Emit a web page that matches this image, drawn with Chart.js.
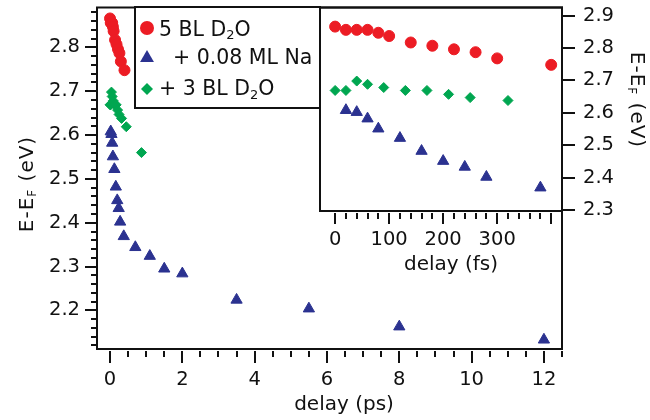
<!DOCTYPE html>
<html>
<head>
<meta charset="utf-8">
<title>E-EF vs delay</title>
<script src="https://cdn.jsdelivr.net/npm/chart.js@4.4.1/dist/chart.umd.min.js"></script>
<style>
  body { margin: 0; background: #fff; }
  #wrap { position: relative; width: 650px; height: 420px; }
  #mainChart { position: absolute; left: 0; top: 0; }
  #insetChart { position: absolute; left: 300px; top: 0; }
</style>
</head>
<body>
<div id="wrap">
  <canvas id="mainChart" width="650" height="420"></canvas>
  <canvas id="insetChart" width="350" height="290"></canvas>
</div>
<script>
// short delays in fs (these are the inset points, also plotted in ps on the main plot)
const redFs = [0, 20, 40, 60, 80, 100, 140, 180, 220, 260, 300, 400];
const redE = [2.866, 2.856, 2.856, 2.856, 2.847, 2.837, 2.817, 2.807, 2.796, 2.787, 2.768, 2.748];
const blueFs = [20, 40, 60, 80, 120, 160, 200, 240, 280, 380];
const blueE = [2.608, 2.602, 2.582, 2.551, 2.522, 2.482, 2.451, 2.433, 2.402, 2.369];
const greenFs = [0, 20, 40, 60, 90, 130, 170, 210, 250, 320];
const greenE = [2.669, 2.669, 2.698, 2.688, 2.678, 2.669, 2.669, 2.657, 2.647, 2.638];
// longer delays in ps, main plot only
const blueLongPs = [0.7, 1.1, 1.5, 2.0, 3.5, 5.5, 8.0, 12.0];
const blueLongE = [2.344, 2.324, 2.295, 2.284, 2.224, 2.204, 2.163, 2.133];
const greenLongPs = [0.45, 0.87];
const greenLongE = [2.619, 2.56];
// tick labels
const mainXLabels = [0, 2, 4, 6, 8, 10, 12];
const mainYLabels = [2.2, 2.3, 2.4, 2.5, 2.6, 2.7, 2.8];
const insetXLabels = [0, 100, 200, 300];
const insetYLabels = [2.3, 2.4, 2.5, 2.6, 2.7, 2.8, 2.9];

const FONT = 'DejaVu Sans';
Chart.defaults.font.family = FONT;
Chart.defaults.font.size = 19.5;
Chart.defaults.color = '#111';

const red = '#ec1c24', blue = '#2b3290', green = '#00a650';

function pts(xs, ys, k) { return xs.map((x, i) => ({ x: x * k, y: ys[i] })); }
function near(v, arr) { return arr.some(a => Math.abs(a - v) < 1e-6); }
function isMult(v, m) { const q = v / m; return Math.abs(q - Math.round(q)) < 1e-6; }

// fixed axis size, no extra label padding so the plot box lands where I want it
function fixSize(w, h) {
  return s => {
    if (w) s.width = w;
    if (h) s.height = h;
    s.paddingTop = 0; s.paddingBottom = 0; s.paddingLeft = 0; s.paddingRight = 0;
  };
}

// text with a lowered small part, parts = [[text, size, dy], ...]
function partsWidth(ctx, parts) {
  let w = 0;
  parts.forEach(([t, s]) => { ctx.font = s + 'px "' + FONT + '"'; w += ctx.measureText(t).width; });
  return w;
}
function drawParts(ctx, parts, x, y) {
  parts.forEach(([t, s, dy]) => {
    ctx.font = s + 'px "' + FONT + '"';
    ctx.fillText(t, x, y + dy);
    x += ctx.measureText(t).width;
  });
}
const eTitle = [['E-E', 20, 0], ['F', 12, 3], [' (eV)', 20, 0]];

// frame box + outward ticks (major / minor)
function frameTicks(list) {
  return {
    id: 'frameTicks',
    afterDraw(chart) {
      const ctx = chart.ctx, a = chart.chartArea;
      ctx.save();
      ctx.strokeStyle = '#111';
      ctx.lineWidth = 2;
      ctx.strokeRect(a.left, a.top, a.right - a.left, a.bottom - a.top);
      list.forEach(c => {
        const s = chart.scales[c.id];
        s.ticks.forEach(t => {
          if (t.value < c.from - 1e-9 || t.value > c.to + 1e-9) return;
          const len = isMult(t.value, c.major) ? c.long : c.short;
          const p = Math.round(s.getPixelForValue(t.value));
          ctx.beginPath();
          if (c.side === 'bottom') { ctx.moveTo(p, a.bottom + c.gap); ctx.lineTo(p, a.bottom + c.gap + len); }
          else if (c.side === 'left') { ctx.moveTo(a.left, p); ctx.lineTo(a.left - len, p); }
          else { ctx.moveTo(a.right, p); ctx.lineTo(a.right + len, p); }
          ctx.stroke();
        });
      });
      ctx.restore();
    }
  };
}

function marker(ctx, style, x, y, r) {
  ctx.beginPath();
  if (style === 'circle') ctx.arc(x, y, r, 0, Math.PI * 2);
  else if (style === 'triangle') {
    ctx.moveTo(x, y - r);
    ctx.lineTo(x + r * 0.866, y + r * 0.5);
    ctx.lineTo(x - r * 0.866, y + r * 0.5);
    ctx.closePath();
  } else {
    ctx.moveTo(x, y - r); ctx.lineTo(x + r, y); ctx.lineTo(x, y + r); ctx.lineTo(x - r, y);
    ctx.closePath();
  }
  ctx.fill();
}

const legendRows = [
  { parts: [['5 BL D', 20.5, 0], ['2', 13, 3.5], ['O', 20.5, 0]], tx: 159, ty: 35.5, my: 28, r: 7 },
  { parts: [['+ 0.08 ML Na', 20.5, 0]], tx: 173, ty: 64, my: 58, r: 8 },
  { parts: [['+ 3 BL D', 20.5, 0], ['2', 13, 3.5], ['O', 20.5, 0]], tx: 159, ty: 95, my: 89, r: 6 }
];

const mainDecor = {
  id: 'mainDecor',
  afterDraw(chart) {
    const ctx = chart.ctx;
    ctx.save();
    // legend box
    ctx.fillStyle = '#fff';
    ctx.fillRect(135, 7, 185, 101);
    ctx.strokeStyle = '#111';
    ctx.lineWidth = 2;
    ctx.strokeRect(135, 7, 185, 101);
    chart.data.datasets.forEach((ds, i) => {
      const row = legendRows[i];
      ctx.fillStyle = ds.backgroundColor;
      marker(ctx, ds.pointStyle, 147, row.my, row.r);
      ctx.fillStyle = '#111';
      ctx.textBaseline = 'alphabetic';
      ctx.textAlign = 'left';
      drawParts(ctx, row.parts, row.tx, row.ty);
    });
    // axis titles
    ctx.fillStyle = '#111';
    const t = [['delay (ps)', 20, 0]];
    drawParts(ctx, t, 344 - partsWidth(ctx, t) / 2, 410);
    ctx.letterSpacing = '1px';
    ctx.translate(33, 184);
    ctx.rotate(-Math.PI / 2);
    drawParts(ctx, eTitle, -partsWidth(ctx, eTitle) / 2, 0);
    ctx.restore();
  }
};

const insetDecor = {
  id: 'insetDecor',
  afterDraw(chart) {
    const ctx = chart.ctx;
    ctx.save();
    ctx.fillStyle = '#111';
    ctx.textBaseline = 'alphabetic';
    ctx.textAlign = 'left';
    const t = [['delay (fs)', 20, 0]];
    drawParts(ctx, t, 151 - partsWidth(ctx, t) / 2, 270);
    ctx.letterSpacing = '1px';
    ctx.translate(331, 100);
    ctx.rotate(Math.PI / 2);
    drawParts(ctx, eTitle, -partsWidth(ctx, eTitle) / 2, 0);
    ctx.restore();
  }
};

const noGrid = { display: false, drawTicks: false };

new Chart(document.getElementById('mainChart'), {
  type: 'scatter',
  data: {
    datasets: [
      { label: '5 BL D₂O', data: pts(redFs, redE, 0.001), pointStyle: 'circle', pointRadius: 5.5,
        backgroundColor: red, borderColor: red, borderWidth: 1 },
      { label: '+ 0.08 ML Na', data: pts(blueFs, blueE, 0.001).concat(pts(blueLongPs, blueLongE, 1)),
        pointStyle: 'triangle', pointRadius: 6.5, backgroundColor: blue, borderColor: blue, borderWidth: 1 },
      { label: '+ 3 BL D₂O', data: pts(greenFs, greenE, 0.001).concat(pts(greenLongPs, greenLongE, 1)),
        pointStyle: 'rectRot', pointRadius: 5, backgroundColor: green, borderColor: green, borderWidth: 1 }
    ]
  },
  options: {
    responsive: false,
    animation: false,
    events: [],
    layout: { padding: { left: 0, top: 7, right: 88, bottom: 0 } },
    plugins: { legend: { display: false }, tooltip: { enabled: false } },
    scales: {
      x: {
        type: 'linear', position: 'bottom', min: -0.36, max: 12.5,
        afterFit: fixSize(0, 71),
        grid: noGrid, border: { display: false },
        ticks: { stepSize: 0.5, autoSkip: false, includeBounds: false, padding: 19, maxRotation: 0,
                 callback: v => near(v, mainXLabels) ? String(v) : '' }
      },
      y: {
        type: 'linear', position: 'left', min: 2.112, max: 2.891,
        afterFit: fixSize(97, 0),
        grid: noGrid, border: { display: false },
        ticks: { stepSize: 0.02, autoSkip: false, includeBounds: false, padding: 17,
                 callback: v => near(v, mainYLabels) ? v.toFixed(1) : '' }
      }
    }
  },
  plugins: [
    frameTicks([
      { id: 'x', side: 'bottom', major: 2, long: 12, short: 6, gap: 2, from: 0, to: 12.5 },
      { id: 'y', side: 'left', major: 0.1, long: 12, short: 6, gap: 0, from: 2.112, to: 2.891 }
    ]),
    mainDecor
  ]
});

new Chart(document.getElementById('insetChart'), {
  type: 'scatter',
  data: {
    datasets: [
      { label: '5 BL D₂O', data: pts(redFs, redE, 1), pointStyle: 'circle', pointRadius: 5.5,
        backgroundColor: red, borderColor: red, borderWidth: 1 },
      { label: '+ 0.08 ML Na', data: pts(blueFs, blueE, 1), pointStyle: 'triangle', pointRadius: 6.5,
        backgroundColor: blue, borderColor: blue, borderWidth: 1 },
      { label: '+ 3 BL D₂O', data: pts(greenFs, greenE, 1), pointStyle: 'rectRot', pointRadius: 5,
        backgroundColor: green, borderColor: green, borderWidth: 1 }
    ]
  },
  options: {
    responsive: false,
    animation: false,
    events: [],
    layout: { padding: { left: 20, top: 7, right: 0, bottom: 0 } },
    plugins: { legend: { display: false }, tooltip: { enabled: false } },
    scales: {
      x: {
        type: 'linear', position: 'bottom', min: -28, max: 420,
        afterFit: fixSize(0, 79),
        grid: noGrid, border: { display: false },
        ticks: { stepSize: 20, autoSkip: false, includeBounds: false, padding: 17, maxRotation: 0,
                 callback: v => near(v, insetXLabels) ? String(v) : '' }
      },
      y: {
        type: 'linear', position: 'right', min: 2.297, max: 2.925,
        afterFit: fixSize(88, 0),
        grid: noGrid, border: { display: false },
        ticks: { stepSize: 0.1, autoSkip: false, includeBounds: false, padding: 21,
                 callback: v => near(v, insetYLabels) ? v.toFixed(1) : '' }
      }
    }
  },
  plugins: [
    frameTicks([
      { id: 'x', side: 'bottom', major: 100, long: 11, short: 6, gap: 2, from: 0, to: 400 },
      { id: 'y', side: 'right', major: 0.1, long: 13, short: 13, gap: 0, from: 2.3, to: 2.9 }
    ]),
    insetDecor
  ]
});
</script>
</body>
</html>
